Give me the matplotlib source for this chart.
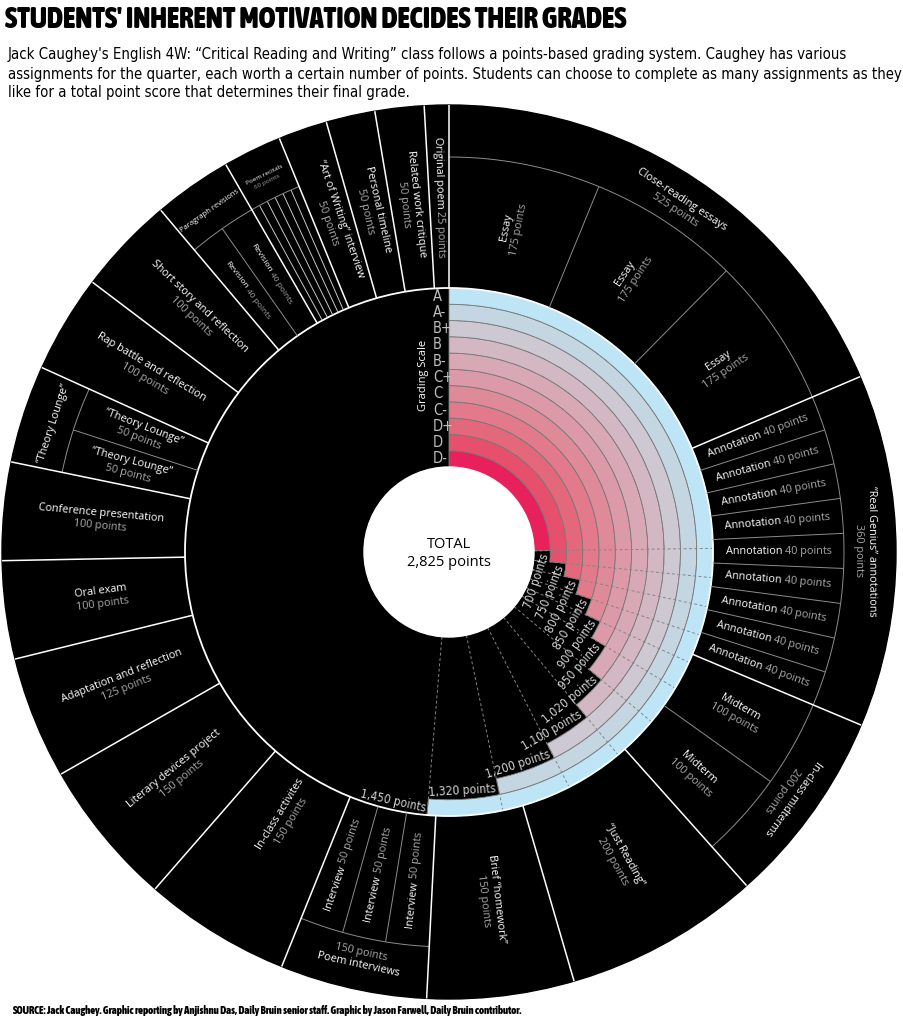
import numpy as np
import matplotlib
matplotlib.use("Agg")
import matplotlib.pyplot as plt
from matplotlib.patches import Wedge, Circle
from matplotlib import font_manager as fm
from matplotlib.font_manager import FontProperties

plt.rcParams['font.family'] = ['Open Sans', 'DejaVu Sans']

title = "STUDENTS' INHERENT MOTIVATION DECIDES THEIR GRADES"
subtitle = [
    "Jack Caughey's English 4W: \u201cCritical Reading and Writing\u201d class follows a points-based grading system. Caughey has various",
    "assignments for the quarter, each worth a certain number of points. Students can choose to complete as many assignments as they",
    "like for a total point score that determines their final grade.",
]
source = ("SOURCE: Jack Caughey. Graphic reporting by Anjishnu Das, Daily Bruin senior staff. "
          "Graphic by Jason Farwell, Daily Bruin contributor.")

# assignment groups, clockwise from 12 o'clock
group_names = [
    "Close-reading essays", "\u201cReal Genius\u201d annotations", "In-class midterms",
    "\u201cJust Reading\u201d", "Brief \u201chomework\u201d", "Poem interviews",
    "In-class activites", "Literary devices project", "Adaptation and reflection",
    "Oral exam", "Conference presentation", "\u201cTheory Lounge\u201d",
    "Rap battle and reflection", "Short story and reflection", "Paragraph revisions",
    "Poem recitals", "\u201cArt of Writing\u201d interview", "Personal timeline",
    "Related work critique", "Original poem",
]
group_points = [525, 360, 200, 200, 150, 150, 150, 150, 125, 100,
                100, 100, 100, 100, 80, 60, 50, 50, 50, 25]
item_names = ["Essay", "Annotation", "Midterm", None, None, "Interview", None, None, None, None,
              None, "\u201cTheory Lounge\u201d", None, None, "Revision", "", None, None, None, None]
item_points = [[175, 175, 175], [40, 40, 40, 40, 40, 40, 40, 40, 40], [100, 100], [], [],
               [50, 50, 50], [], [], [], [], [], [50, 50], [], [], [40, 40],
               [10, 10, 10, 10, 10, 10], [], [], [], []]

grade_labels = ["D-", "D", "D+", "C-", "C", "C+", "B-", "B", "B+", "A-", "A"]
grade_cutoffs = [700, 750, 800, 850, 900, 950, 1020, 1100, 1200, 1320, 1450]
grade_colors = ["#e8215c", "#e6506c", "#e4687c", "#e27a8b", "#df8a99", "#dc99a7",
                "#d8a9b5", "#d3b8c3", "#cdc8d1", "#c4d6e2", "#bde5f5"]

TOTAL = sum(group_points)
CX, CY = 449, 1024 - 552
R_CENTER, R_IN, R_SUB, R_OUT = 85, 264, 395, 447
BW = (R_IN - R_CENTER) / len(grade_labels)
WHITE, GRAY, PTS = "#ffffff", "#8c8c8c", "#a8a8a8"
FS = 7.8


def find_narrow(bold):
    # look for any condensed / narrow face that is installed
    best = None
    for f in fm.fontManager.ttflist:
        st = f.stretch
        cond = ('Narrow' in f.name or 'Condensed' in f.name
                or st in ('condensed', 'extra-condensed', 'ultra-condensed', 'semi-condensed')
                or (isinstance(st, (int, float)) and st < 500))
        if not cond or f.style != 'normal' or 'Mono' in f.name:
            continue
        w = f.weight if isinstance(f.weight, (int, float)) else fm.weight_dict.get(f.weight, 400)
        score = abs(w - (850 if bold else 400))
        if best is None or score < best[0]:
            best = (score, f.fname)
    return best[1] if best else None


_nb, _nr = find_narrow(True), find_narrow(False)
FP_TITLE = FontProperties(fname=_nb) if _nb else FontProperties(family='Roboto', weight='black')
FP_BOLD = FontProperties(fname=_nb) if _nb else FontProperties(family='Roboto', weight='bold')
FP_NARROW = FontProperties(fname=_nr) if _nr else FontProperties(family='Roboto')

fig = plt.figure(figsize=(9.04, 10.24), dpi=100)
ax = fig.add_axes([0, 0, 1, 1])
ax.set_xlim(0, 904)
ax.set_ylim(0, 1024)
ax.axis('off')
R = fig.canvas.get_renderer()


def ang(p):
    return p / TOTAL * 360.0


def xy(t, r):
    a = np.radians(90 - np.asarray(t))
    return CX + r * np.cos(a), CY + r * np.sin(a)


def radial_line(t, r1, r2, **kw):
    x1, y1 = xy(t, r1)
    x2, y2 = xy(t, r2)
    ax.plot([x1, x2], [y1, y2], solid_capstyle='butt', **kw)


def arc(t1, t2, r, **kw):
    x, y = xy(np.linspace(t1, t2, 200), r)
    ax.plot(x, y, **kw)


def text_width(s, **kw):
    t = ax.text(0, 0, s, **kw)
    w = t.get_window_extent(renderer=R).width
    t.remove()
    return w


def fit_text(x, y, s, width, fp, size, **kw):
    fp = fp.copy()
    fp.set_size(size)
    t = ax.text(x, y, s, fontproperties=fp, **kw)
    w = t.get_window_extent(renderer=R).width
    t.set_fontsize(size * width / w)
    return t


def radial_rot(t):
    return 90 - t if t < 180 else 270 - t


def label(t, r, rot, lines, fs, z=5):
    # stacked lines, first line on the "up" side of the rotated text
    px, py = xy(t, r)
    rr = np.radians(rot)
    vx, vy = -np.sin(rr), np.cos(rr)
    ls = fs * 100 / 72 * 1.2
    n = len(lines)
    for i, (s, c) in enumerate(lines):
        off = ((n - 1) / 2 - i) * ls
        ax.text(px + vx * off, py + vy * off, s, color=c, fontsize=fs, rotation=rot,
                rotation_mode='anchor', ha='center', va='center', zorder=z)


def label_inline(t, r, rot, name, pts, fs, z=5):
    px, py = xy(t, r)
    rr = np.radians(rot)
    ux, uy = np.cos(rr), np.sin(rr)
    w = text_width(name + " " + pts, fontsize=fs)
    ax.text(px - ux * w / 2, py - uy * w / 2, name, color=WHITE, fontsize=fs, rotation=rot,
            rotation_mode='anchor', ha='left', va='center', zorder=z)
    ax.text(px + ux * w / 2, py + uy * w / 2, pts, color=PTS, fontsize=fs, rotation=rot,
            rotation_mode='anchor', ha='right', va='center', zorder=z)


# base disk
ax.add_patch(Circle((CX, CY), R_OUT, color='black', zorder=1))

# grading bands
for k, cut in enumerate(grade_cutoffs):
    r0 = R_CENTER + k * BW
    ax.add_patch(Wedge((CX, CY), r0 + BW, 90 - ang(cut), 90, width=BW,
                       facecolor=grade_colors[k], edgecolor='#7a7a7a', lw=0.6, zorder=2))
for k, cut in enumerate(grade_cutoffs):
    radial_line(ang(cut), R_CENTER, R_IN, color='#858585', lw=0.7,
                ls=(0, (3, 2.5)), zorder=3)

# threshold labels
fp_thr = FP_NARROW.copy()
fp_thr.set_size(8.6)
for k, cut in enumerate(grade_cutoffs):
    rm = R_CENTER + (k + 0.5) * BW - 0.5
    s = f"{cut:,} points"
    w = text_width(s, fontproperties=fp_thr)
    tc = ang(cut) + np.degrees((w / 2 + 2) / rm)
    px, py = xy(tc, rm)
    ax.text(px, py, s, color='#d4d4d4', fontproperties=fp_thr, rotation=180 - tc,
            rotation_mode='anchor', ha='center', va='center', zorder=6)

# grade letters
fp_gr = FP_NARROW.copy()
fp_gr.set_size(10.5)
for k, g in enumerate(grade_labels):
    ax.text(433, CY + R_CENTER + (k + 0.5) * BW, g, color='#bdbdbd', fontproperties=fp_gr,
            ha='left', va='center', zorder=6)
ax.text(424, 1024 - 375, "Grading Scale", color=WHITE, fontsize=8, rotation=90,
        ha='center', va='center', zorder=6)

# center
ax.add_patch(Circle((CX, CY), R_CENTER, color='white', zorder=7))
ax.text(CX, 1024 - 545, "TOTAL", fontsize=10.5, ha='center', va='center', zorder=8)
ax.text(CX, 1024 - 562, f"{TOTAL:,} points", fontsize=10.5, ha='center', va='center', zorder=8)
ax.add_patch(Circle((CX, CY), R_IN, fill=False, ec=WHITE, lw=1.3, zorder=4))

# outer ring
group_fs = {"Paragraph revisions": 5.5, "Poem recitals": 4.6}
group_r = {"In-class activites": 312}
no_total = {"\u201cTheory Lounge\u201d", "Paragraph revisions"}
inline_items = {"Annotation": FS, "Interview": FS, "Revision": 6.0}
cum = 0
for i, name in enumerate(group_names):
    p = group_points[i]
    t1, t2 = ang(cum), ang(cum + p)
    tc = (t1 + t2) / 2
    subs = item_points[i]
    if subs:
        c2 = cum
        sub_col = '#c8c8c8' if item_names[i] == "" else GRAY
        for j, sp in enumerate(subs):
            s1, s2 = ang(c2), ang(c2 + sp)
            if j > 0:
                radial_line(s1, R_IN, R_SUB, color=sub_col, lw=0.7, zorder=4)
            nm = item_names[i]
            if nm:
                sc = (s1 + s2) / 2
                if nm in inline_items:
                    label_inline(sc, 330, radial_rot(sc), nm, f"{sp} points", inline_items[nm])
                else:
                    label(sc, 330, radial_rot(sc), [(nm, WHITE), (f"{sp} points", PTS)], FS)
            c2 += sp
        arc(t1, t2, R_SUB, color=GRAY, lw=0.7, zorder=4)
        lines = [(name, WHITE)]
        if name not in no_total:
            lines.append((f"{p} points", PTS))
        rot = -tc
        if 180 < tc < 270:
            rot += 180
            lines = lines[::-1]
        label(tc, 416, rot, lines, group_fs.get(name, FS))
    else:
        if name == "Original poem":
            label_inline(tc, 355, radial_rot(tc), name, f"{p} points", FS)
        else:
            label(tc, group_r.get(name, 350), radial_rot(tc),
                  [(name, WHITE), (f"{p} points", PTS)], FS)
    radial_line(t1, R_IN, R_OUT, color=WHITE, lw=1.1, zorder=4)
    cum += p

# header and footer
fit_text(5, 1024 - 20, title, 620, FP_TITLE, 20, va='center', ha='left')
st = fit_text(8, 1024 - 74, subtitle[1], 890, FP_NARROW, 11, va='center', ha='left')
fp_sub = FP_NARROW.copy()
fp_sub.set_size(st.get_fontsize())
ax.text(8, 1024 - 55, subtitle[0], fontproperties=fp_sub, va='center', ha='left')
ax.text(8, 1024 - 93, subtitle[2], fontproperties=fp_sub, va='center', ha='left')
fit_text(12, 1024 - 1010, source, 510, FP_BOLD, 6, va='center', ha='left')

fig.savefig("out.png", dpi=100)
